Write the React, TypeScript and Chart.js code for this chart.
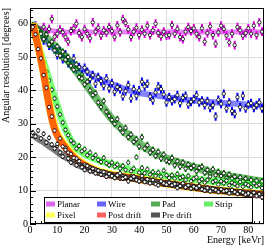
import React, { useEffect, useRef } from 'react';
import { Chart, registerables } from 'chart.js';
Chart.register(...registerables);

// ---- data ----
const energy = [1, 2, 3, 4, 5, 6, 7, 8, 9, 10, 11, 12, 13, 14, 15, 16, 17, 18, 19, 20, 21, 22, 23, 24, 25, 26, 27, 28, 29, 30, 31, 32, 33, 34, 35, 36, 37, 38, 39, 40, 41, 42, 43, 44, 45, 46, 47, 48, 49, 50, 51, 52, 53, 54, 55, 56, 57, 58, 59, 60, 61, 62, 63, 64, 65, 66, 67, 68, 69, 70, 71, 72, 73, 74, 75, 76, 77, 78, 79, 80, 81, 82, 83, 84, 85];

const planarPts = [58.5, 59.2, 58.0, 57.6, 59.0, 57.2, 58.4, 61.4, 56.1, 57.0,
  58.2, 57.4, 56.0, 54.6, 57.8, 58.6, 60.0, 57.2, 56.0, 58.4,
  57.0, 55.6, 60.4, 57.6, 58.8, 56.4, 58.0, 57.3, 59.0, 57.8,
  56.0, 59.5, 57.4, 61.4, 60.2, 58.3, 56.0, 57.6, 58.8, 56.6,
  58.2, 57.0, 59.4, 56.6, 58.0, 60.0, 57.2, 56.2, 57.6, 56.4,
  56.6, 59.6, 57.0, 58.4, 56.0, 55.4, 57.6, 59.0, 57.8, 58.6,
  57.0, 56.0, 58.6, 54.6, 57.2, 59.2, 56.6, 54.0, 57.4, 59.4,
  58.4, 56.4, 54.4, 57.0, 53.6, 59.0, 58.0, 56.4, 57.2, 58.6,
  57.0, 59.4, 56.6, 60.4, 57.6];
const wirePts = [58.6, 59.4, 57.8, 56.6, 55.0, 56.4, 53.4, 54.0, 52.2, 50.6,
  51.8, 49.4, 50.8, 48.2, 47.6, 49.6, 46.4, 47.0, 44.8, 46.8,
  45.6, 43.4, 44.6, 42.0, 44.0, 42.8, 41.4, 43.6, 40.6, 42.2,
  39.6, 41.0, 40.4, 38.2, 39.8, 41.6, 37.6, 40.4, 38.4, 40.0,
  42.6, 41.2, 42.0, 38.2, 37.0, 39.4, 41.2, 40.4, 38.8, 36.4,
  38.0, 36.8, 37.4, 38.6, 36.2, 37.8, 38.4, 35.8, 36.6, 37.4,
  38.6, 36.4, 37.0, 35.6, 36.8, 34.8, 35.6, 32.2, 37.2, 36.0,
  39.0, 34.6, 36.4, 33.8, 33.0, 38.0, 35.0, 38.4, 34.6, 35.8,
  36.2, 34.8, 35.6, 36.4, 34.6];
const padPts = [59.6, 58.8, 58.2, 57.0, 55.4, 56.8, 53.8, 54.6, 52.0, 53.2,
  50.4, 51.6, 49.2, 50.0, 47.4, 46.2, 47.8, 44.0, 43.6, 41.8,
  42.6, 40.0, 38.6, 39.2, 36.4, 35.0, 36.8, 33.6, 32.4, 31.2,
  30.0, 31.4, 28.6, 27.4, 28.8, 26.0, 26.8, 24.6, 25.4, 23.2,
  26.0, 22.6, 23.6, 21.4, 22.2, 20.4, 21.6, 19.6, 20.8, 19.0,
  18.6, 19.8, 17.6, 18.8, 17.2, 18.4, 16.6, 17.8, 16.8, 17.4,
  15.8, 16.8, 17.2, 15.4, 16.2, 15.0, 16.4, 14.6, 15.6, 14.4,
  15.2, 13.8, 14.8, 13.6, 14.2, 13.2, 14.0, 12.8, 13.6, 12.6,
  13.2, 12.4, 13.0, 12.2, 12.8];
const stripPts = [58.2, 56.4, 53.6, 51.0, 48.4, 45.6, 43.0, 40.2, 37.6, 35.2,
  32.8, 30.4, 28.2, 26.6, 25.0, 24.2, 22.6, 23.4, 21.8, 22.4,
  20.6, 21.4, 19.8, 20.6, 19.2, 18.6, 19.8, 18.2, 17.6, 18.4,
  17.2, 17.8, 16.6, 17.4, 16.2, 18.4, 15.8, 16.6, 20.0, 15.4,
  16.8, 15.2, 16.4, 14.8, 15.6, 14.4, 15.4, 14.2, 16.0, 14.6,
  13.8, 14.6, 13.6, 15.0, 13.8, 14.2, 13.2, 14.4, 12.8, 13.6,
  14.0, 12.8, 13.4, 12.4, 13.2, 14.2, 12.6, 13.0, 11.8, 12.8,
  12.2, 13.0, 11.6, 12.4, 12.0, 11.4, 12.6, 11.2, 12.0, 11.6,
  11.0, 12.2, 11.4, 11.8, 10.8];
const postDriftPts = [59.0, 56.8, 52.4, 49.6, 44.6, 40.8, 35.0, 32.2, 28.0, 23.4,
  25.6, 23.2, 22.8, 21.4, 21.0, 19.0, 19.6, 18.0, 17.4, 17.8,
  16.8, 17.0, 15.8, 16.4, 15.2, 15.8, 14.8, 15.4, 14.4, 14.8,
  14.2, 14.8, 13.6, 14.4, 13.8, 13.2, 14.2, 13.4, 13.8, 12.8,
  13.4, 13.0, 12.6, 13.2, 12.4, 12.8, 12.2, 12.6, 11.8, 12.4,
  11.8, 12.2, 11.4, 12.0, 11.2, 11.6, 11.0, 11.4, 10.8, 11.2,
  10.6, 11.0, 10.4, 10.8, 10.2, 10.6, 10.0, 10.4, 9.8, 10.2,
  9.8, 9.6, 10.0, 9.4, 9.6, 9.2, 9.4, 9.0, 9.2, 8.8,
  9.0, 8.6, 8.8, 8.4, 8.6];
const preDriftPts = [27.4, 26.2, 28.0, 25.6, 27.0, 24.4, 25.8, 23.8, 22.6, 24.0,
  21.4, 20.2, 22.2, 19.6, 18.4, 19.8, 17.6, 18.8, 17.0, 16.2,
  17.4, 15.8, 16.6, 15.2, 16.0, 14.8, 15.6, 14.2, 15.0, 14.4,
  13.8, 14.6, 15.2, 13.6, 14.0, 12.8, 13.6, 14.2, 13.2, 12.8,
  14.4, 12.6, 13.4, 12.2, 13.2, 12.0, 11.6, 12.8, 12.2, 11.8,
  12.4, 11.6, 12.0, 10.8, 11.4, 12.2, 11.0, 11.6, 10.6, 11.2,
  10.8, 11.4, 10.4, 10.0, 10.8, 9.8, 10.6, 10.2, 9.6, 10.4,
  9.8, 10.0, 9.2, 10.2, 9.6, 9.0, 9.8, 9.4, 8.8, 9.2,
  8.6, 9.4, 8.4, 9.0, 8.0];

// fitted bands
const bandEnergy = [1, 2, 3, 4, 5, 6, 7, 8, 9, 10, 12, 14, 17, 20, 25, 30, 38, 45, 50, 60, 70, 86];
const planarBand = [59.5, 59.2, 58.9, 58.6, 58.4, 58.2, 58.0, 57.9, 57.8, 57.7, 57.6, 57.5, 57.5, 57.5, 57.5, 57.5, 57.5, 57.5, 57.5, 57.5, 57.5, 57.5];
const wireBand = [59.0, 58.2, 57.3, 56.4, 55.5, 54.6, 53.8, 53.0, 52.3, 51.6, 50.3, 49.0, 47.4, 46.0, 43.7, 41.9, 39.6, 38.6, 38.0, 37.0, 36.3, 35.4];
const padBand = [59.5, 58.8, 58.1, 57.3, 56.5, 55.7, 54.9, 54.1, 53.3, 52.5, 50.8, 49.0, 45.8, 42.5, 36.8, 31.5, 25.3, 21.6, 19.6, 17.0, 14.8, 12.6];
const stripBand = [58.5, 56.0, 53.5, 51.0, 48.5, 46.0, 43.3, 40.6, 38.0, 35.5, 30.5, 26.6, 22.8, 21.0, 19.2, 17.9, 15.9, 14.9, 14.4, 13.4, 12.6, 11.5];
const pixelBand = [60.2, 56.9, 53.4, 49.5, 45.5, 40.6, 36.2, 32.2, 29.0, 26.9, 24.3, 22.2, 19.5, 17.8, 15.8, 14.8, 13.8, 12.8, 12.1, 11.0, 10.0, 8.8];
const postDriftBand = [60.0, 56.5, 53.0, 49.0, 45.0, 40.0, 35.5, 31.5, 28.5, 26.5, 24.0, 21.8, 19.2, 17.6, 15.6, 14.6, 13.7, 12.7, 12.1, 11.0, 10.0, 8.8];
const preDriftBand = [26.8, 26.2, 25.6, 25.1, 24.6, 24.0, 23.4, 22.9, 22.3, 21.7, 20.6, 19.6, 18.0, 16.9, 15.5, 14.6, 13.6, 12.7, 12.1, 11.0, 10.0, 8.8];

const seriesNames = ['Planar', 'Wire', 'Pad', 'Strip', 'Pixel', 'Post drift', 'Pre drift'];
const seriesErrors = [1.3, 1.3, 1.0, 0.9, 0.7, 0.7, 0.7];

const xTicks = [0, 10, 20, 30, 40, 50, 60, 70, 80];
const yTicks = [0, 10, 20, 30, 40, 50, 60];

// ---- styles ----
const bandColors = ['rgba(215,50,240,0.6)', 'rgba(50,50,255,0.6)', 'rgba(0,130,0,0.55)', 'rgba(40,255,40,0.6)', 'rgba(255,255,0,0.85)', 'rgba(255,40,0,0.72)', 'rgba(40,40,40,0.6)'];
const bandWidths = [5, 6, 8, 7, 8, 7, 7];
const barColors = ['#e000e0', '#0000ff', '#008800', '#00dd00', '#dddd00', '#ff0000', '#000000'];
const legendColors = ['#dd66ee', '#6666ff', '#55aa55', '#66ee66', '#ffff55', '#ff6060', '#555555'];
const SERIF = '"Liberation Serif", "Times New Roman", serif';

const bandSets = [planarBand, wireBand, padBand, stripBand, pixelBand, postDriftBand, preDriftBand];
const pointSets: (number[] | null)[] = [planarPts, wirePts, padPts, stripPts, null, postDriftPts, preDriftPts];

const errorBarPlugin = {
  id: 'errorBars',
  beforeDatasetDraw(chart: any, args: any) {
    const ds = chart.data.datasets[args.index];
    if (!ds.errY) return;
    const { ctx, chartArea: a } = chart;
    const ys = chart.scales.y;
    ctx.save();
    ctx.beginPath();
    ctx.rect(a.left, a.top, a.right - a.left, a.bottom - a.top);
    ctx.clip();
    ctx.strokeStyle = ds.errColor;
    ctx.lineWidth = 2;
    ctx.beginPath();
    args.meta.data.forEach((el: any, i: number) => {
      const v = ds.data[i].y;
      ctx.moveTo(el.x, ys.getPixelForValue(v + ds.errY));
      ctx.lineTo(el.x, ys.getPixelForValue(v - ds.errY));
    });
    ctx.stroke();
    ctx.restore();
  },
};

const framePlugin = {
  id: 'frameLegend',
  afterDraw(chart: any) {
    const { ctx, chartArea: a } = chart;
    const xs = chart.scales.x;
    const ys = chart.scales.y;
    ctx.save();
    ctx.strokeStyle = '#000';
    ctx.lineWidth = 1;
    ctx.beginPath();
    for (let v = 0; v <= xs.max; v += 2) {
      const px = Math.round(xs.getPixelForValue(v)) + 0.5;
      const len = v % 10 === 0 ? 6 : 3;
      ctx.moveTo(px, a.bottom);
      ctx.lineTo(px, a.bottom - len);
    }
    for (let v = 0; v <= ys.max; v += 2) {
      const py = Math.round(ys.getPixelForValue(v)) + 0.5;
      const len = v % 10 === 0 ? 6 : 3;
      ctx.moveTo(a.left, py);
      ctx.lineTo(a.left + len, py);
    }
    ctx.stroke();
    ctx.strokeRect(Math.round(a.left) + 0.5, Math.round(a.top) + 0.5, Math.round(a.right - a.left) - 1, Math.round(a.bottom - a.top) - 1);

    // legend box
    const bx = 44, by = 197, bw = 208, bh = 25;
    ctx.fillStyle = '#fff';
    ctx.fillRect(bx, by, bw, bh);
    ctx.strokeRect(bx + 0.5, by + 0.5, bw, bh);
    const colX = [46, 97, 151, 204];
    const rowY = [204, 215];
    ctx.font = '9px ' + SERIF;
    ctx.textBaseline = 'middle';
    ctx.textAlign = 'left';
    seriesNames.forEach((name, i) => {
      const col = i % 4;
      const row = Math.floor(i / 4);
      const x = colX[col];
      const y = rowY[row];
      ctx.fillStyle = legendColors[i];
      ctx.fillRect(x, y - 2.5, 9, 5);
      ctx.fillStyle = '#000';
      ctx.fillText(name, x + 11, y + 0.5);
    });
    ctx.restore();
  },
};

export default function App() {
  const ref = useRef<HTMLCanvasElement>(null);
  useEffect(() => {
    document.body.style.margin = '0';
    const datasets: any[] = [];
    let order = 100;
    seriesNames.forEach((name, i) => {
      datasets.push({
        type: 'line',
        label: name + ' fit',
        data: bandEnergy.map((e, k) => ({ x: e, y: bandSets[i][k] })),
        borderColor: bandColors[i],
        borderWidth: bandWidths[i],
        borderCapStyle: 'butt',
        pointRadius: 0,
        showLine: true,
        fill: false,
        cubicInterpolationMode: 'monotone',
        order: order--,
      });
      const pts = pointSets[i];
      if (pts) {
        datasets.push({
          type: 'scatter',
          label: name,
          data: energy.map((e, k) => ({ x: e, y: pts[k] })),
          backgroundColor: '#ffffff',
          borderColor: '#000000',
          borderWidth: 0.8,
          pointRadius: 1.7,
          errY: seriesErrors[i],
          errColor: barColors[i],
          order: order--,
        });
      }
    });

    const chart = new Chart(ref.current as HTMLCanvasElement, {
      type: 'scatter',
      data: { datasets },
      options: {
        responsive: false,
        devicePixelRatio: 1,
        animation: false,
        layout: { padding: { top: 2, right: 4, left: 0, bottom: 0 } },
        plugins: { legend: { display: false }, tooltip: { enabled: false } },
        scales: {
          x: {
            type: 'linear',
            min: 0,
            max: 85.8,
            afterBuildTicks: (s: any) => { s.ticks = xTicks.map((v) => ({ value: v })); },
            afterFit: (s: any) => { s.height = 28; },
            ticks: { font: { family: SERIF, size: 10 }, color: '#000', padding: 0, maxRotation: 0, autoSkip: false },
            grid: { color: '#dcdcdc', drawTicks: false },
            border: { display: false },
            title: { display: true, text: 'Energy [keVr]', align: 'end', color: '#000', font: { family: SERIF, size: 10 }, padding: { top: 0, bottom: 6 } },
          },
          y: {
            type: 'linear',
            min: 0,
            max: 64.7,
            afterBuildTicks: (s: any) => { s.ticks = yTicks.map((v) => ({ value: v })); },
            afterFit: (s: any) => { s.width = 30; },
            ticks: { font: { family: SERIF, size: 10 }, color: '#000', padding: 2, autoSkip: false },
            grid: { color: '#dcdcdc', drawTicks: false },
            border: { display: false },
            title: { display: true, text: 'Angular resolution [degrees]', align: 'end', color: '#000', font: { family: SERIF, size: 10 }, padding: 0 },
          },
        },
      } as any,
      plugins: [errorBarPlugin, framePlugin],
    });
    return () => chart.destroy();
  }, []);
  return (
    <div style={{ width: 269, height: 252 }}>
      <canvas ref={ref} width={269} height={252} style={{ display: 'block' }} />
    </div>
  );
}
